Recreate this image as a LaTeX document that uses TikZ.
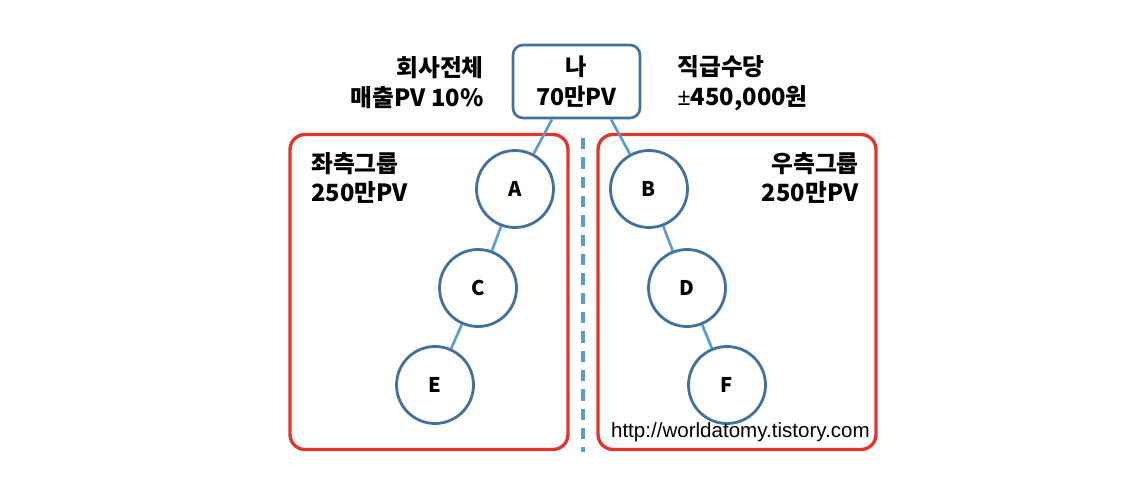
\documentclass[tikz,border=0pt]{standalone}
\usepackage{fontspec}
\setmainfont{Noto Sans CJK KR}
\newfontfamily\urlfont{Liberation Sans}
\newfontfamily\signfont{Noto Sans}
\usetikzlibrary{shapes}
\definecolor{nodeblue}{RGB}{65,113,156}
\definecolor{lineblue}{RGB}{91,155,213}
\definecolor{grpred}{RGB}{228,52,44}
\tikzset{
    member/.style={draw=nodeblue, line width=1.6pt, shape=circle, minimum size=1.54cm, font=\bfseries\fontsize{11.5}{13}\selectfont},
    me/.style={draw=nodeblue, line width=1.5pt, shape=rectangle, rounded corners=0.2cm, minimum width=2.54cm, minimum height=1.46cm, align=center, font=\bfseries\fontsize{13.2}{17}\selectfont},
    group/.style={draw=grpred, line width=1.9pt, shape=rectangle, rounded corners=0.3cm, minimum width=5.56cm, minimum height=6.3cm},
    info/.style={inner sep=0pt, font=\bfseries\fontsize{13.5}{17}\selectfont},
    link/.style={draw=lineblue, line width=1.5pt}
}
\begin{document}
\begin{tikzpicture}[x=0.02cm, y=-0.02cm]
    \useasboundingbox (0,0) rectangle (1143,494);
    \draw (429,292) node [group] (leftgrp) {} ;
    \draw (737,292) node [group] (rightgrp) {} ;
    \draw (576.5,81.5) node [me] (me) {나\\70만PV} ;
    \draw (515,189) node [member] (A) {A} ;
    \draw (649,189) node [member] (B) {B} ;
    \draw (478,288) node [member] (C) {C} ;
    \draw (687,288) node [member] (D) {D} ;
    \draw (435,385) node [member] (E) {E} ;
    \draw (727,385) node [member] (F) {F} ;

    \draw (484,83) node [info, anchor=east, align=right] (total) {회사전체\\매출PV 10\%} ;
    \draw (677,83) node [info, anchor=west, align=left] (bonus) {직급수당\\{\signfont\bfseries ±}450,000원} ;
    \draw (311,178) node [info, anchor=west, align=left] (leftpv) {좌측그룹\\250만PV} ;
    \draw (859,178) node [info, anchor=east, align=right] (rightpv) {우측그룹\\250만PV} ;
    \draw (870,432) node [inner sep=0pt, anchor=east, font=\urlfont\fontsize{11.7}{14}\selectfont] (url) {http://worldatomy.tistory.com} ;

    \coordinate (divtop) at (583,138);
    \coordinate (divbot) at (583,452);
    \draw[lineblue, line width=2pt, dash pattern=on 6.5pt off 4.5pt] (divtop) -- (divbot);

    \draw[link] ([xshift=-0.49cm]me.south) -- (A);
    \draw[link] ([xshift=0.69cm]me.south) -- (B);
    \draw[link] (A) -- (C);
    \draw[link] (C) -- (E);
    \draw[link] (B) -- (D);
    \draw[link] (D) -- (F);
\end{tikzpicture}
\end{document}
